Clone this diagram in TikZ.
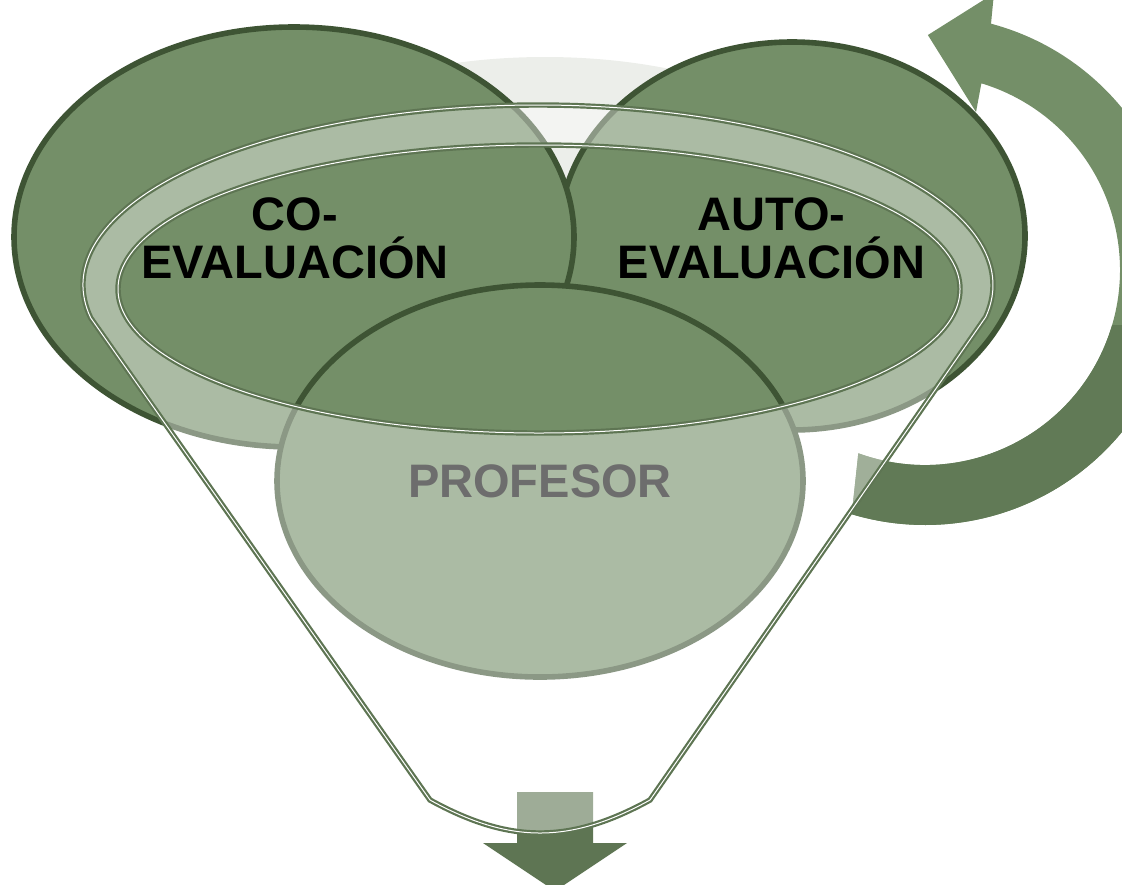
\documentclass[tikz,border=0pt]{standalone}
\usepackage{fontspec}
\setmainfont{Liberation Sans}
\usetikzlibrary{calc}
\definecolor{circfill}{RGB}{116,143,104}
\definecolor{circline}{RGB}{62,84,52}
\definecolor{darkarrow}{RGB}{97,122,86}
\definecolor{funnelline}{RGB}{94,117,83}
\definecolor{backgrey}{RGB}{236,238,234}
\definecolor{proftext}{RGB}{109,109,109}
\tikzset{
    circ/.style={fill=circfill, draw=circline, line width=2.8pt},
    rimline/.style={draw=funnelline, line width=1.1pt, double=white, double distance=0.5pt},
    lbl/.style={align=center, inner sep=0pt, font=\fontsize{23.5}{24}\selectfont\bfseries},
}

\begin{document}
\begin{tikzpicture}[x=0.5pt, y=0.5pt]
    \useasboundingbox (0,0) rectangle (1122,-884);
    \coordinate (hub) at (925,-270);
    \coordinate (rimc) at (538,-285);
    \coordinate (mouth) at (539,-289);
    \coordinate (lt) at ($(rimc)+(190.5:455 and 180)$);
    \coordinate (lb) at (430,-800);
    \coordinate (rb) at (650,-800);

    \fill[backgrey] (545,-190) ellipse[x radius=300, y radius=133];
    \draw[circ] (792,-236) ellipse[x radius=233, y radius=194];
    \draw[circ] (294,-237) ellipse[x radius=280, y radius=210];
    \draw[circ] (540,-481) ellipse[x radius=263, y radius=196];

    \fill[circfill, path picture={\fill[darkarrow] (780,-325) rectangle (1200,-600);}]
        ($(hub)+(250:195)$) arc[start angle=250, end angle=433.2, radius=195]
        -- ($(hub)+(72.1:166)$) -- ($(hub)+(89.3:235)$) -- ($(hub)+(76:285)$)
        -- ($(hub)+(75:255)$) arc[start angle=435, end angle=253.3, radius=255] -- cycle;

    \fill[funnelline] (517,-792) -- (593,-792) -- (593,-843) -- (627,-843)
        -- (555,-891) -- (483,-843) -- (517,-843) -- cycle;

    \fill[white, fill opacity=0.4, even odd rule]
        (lt) arc[start angle=190.5, end angle=-10.2, x radius=455, y radius=180]
        -- (rb) .. controls (570,-844) and (510,-844) .. (lb) -- cycle
        (mouth) ellipse[x radius=421, y radius=144];
    \draw[rimline] (lt) arc[start angle=190.5, end angle=-10.2, x radius=455, y radius=180]
        -- (rb) .. controls (570,-844) and (510,-844) .. (lb) -- cycle;
    \draw[rimline] (mouth) ellipse[x radius=421, y radius=144];

    \node[lbl] (co) at (295,-238.5) {CO-\\EVALUACIÓN};
    \node[lbl] (auto) at (771.5,-238.5) {AUTO-\\EVALUACIÓN};
    \node[lbl, text=proftext] (prof) at (540,-481) {PROFESOR};
\end{tikzpicture}
\end{document}
